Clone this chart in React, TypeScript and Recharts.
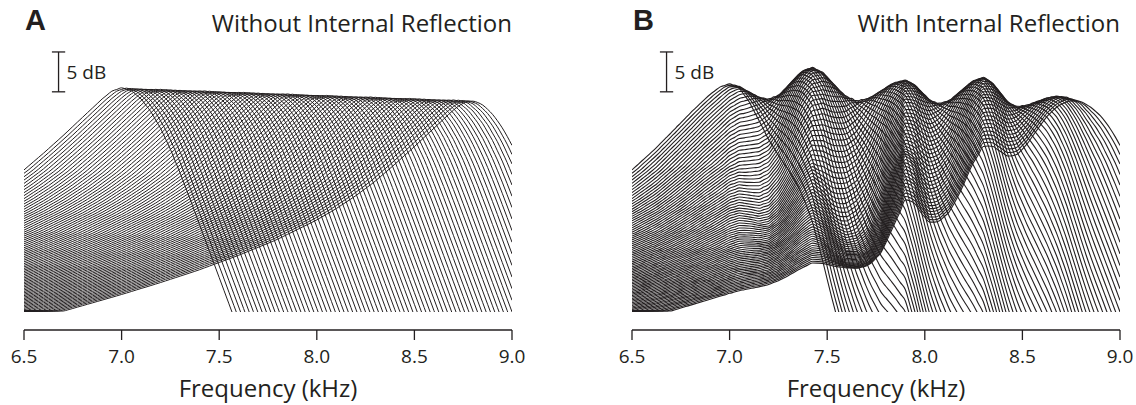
import React from 'react';
import { LineChart, Line, XAxis, YAxis, ReferenceLine } from 'recharts';

const INK = '#231f20';
const FONT = '"Open Sans", "Noto Sans", sans-serif';

const FREQ_TICKS = [6.5, 7.0, 7.5, 8.0, 8.5, 9.0];
const FREQ_MIN = 6.5;
const FREQ_MAX = 9.0;
const FREQ_STEP = 0.025;

// family of responses: peaks walk along the top ridge from 7.0 to 8.79 kHz
const CURVE_COUNT = 81;
const PEAK_KHZ = [7.0, 8.79];
const PEAK_DB = [28.0, 26.4];

// drop below the peak level vs distance from the peak (kHz)
const SHAPE_OFFSET_KHZ = [-2.4, -2.2, -2.0, -1.8, -1.6, -1.4, -1.2, -1.0, -0.8, -0.7, -0.6, -0.5, -0.4, -0.3, -0.2, -0.15, -0.1, -0.05, 0,
  0.05, 0.1, 0.15, 0.2, 0.25, 0.3, 0.35, 0.4, 0.45, 0.5, 0.55, 0.6, 0.7];
const SHAPE_DROP_DB = [28.6, 27.2, 25.8, 24.4, 22.9, 21.3, 19.5, 17.5, 15.1, 13.7, 12.1, 10.3, 8.2, 6.0, 3.7, 2.55, 1.4, 0.42, 0,
  0.35, 1.4, 3.0, 5.1, 7.7, 10.7, 13.9, 17.2, 20.5, 23.8, 27.1, 30.4, 37];

// panel B: internal reflection squeezes (+) or stretches (-) each curve's drop,
// and lifts the tops, at fixed frequencies
const REFLECT_KHZ = [6.5, 6.625, 6.75, 6.875, 7.0, 7.05, 7.1, 7.15, 7.2, 7.255, 7.31, 7.365, 7.42, 7.478, 7.535, 7.593,
  7.65, 7.713, 7.775, 7.838, 7.9, 7.943, 7.985, 8.028, 8.07, 8.128, 8.185, 8.243, 8.3, 8.343, 8.385, 8.428,
  8.47, 8.523, 8.575, 8.628, 8.68, 8.725, 8.77, 8.815, 8.86, 9.0];
const REFLECT_SQUEEZE = [0, 0.015, 0.05, 0.085, 0.1, 0.071, 0, -0.071, -0.1, -0.068, 0.01, 0.088, 0.12, -0.05, -0.25, -0.37,
  -0.4, -0.37, -0.2, 0.12, 0.38, 0.28, 0.08, -0.06, -0.09, -0.06, 0.06, 0.24, 0.36, 0.3, 0.19, 0.09,
  0.05, 0.079, 0.15, 0.221, 0.25, 0.213, 0.125, 0.037, 0, 0];
const REFLECT_LIFT_DB = [0, 0.073, 0.25, 0.427, 0.5, 0.251, -0.35, -0.951, -1.2, -0.585, 0.9, 2.385, 3.0, 2.414, 1.0, -0.414,
  -1.0, -0.59, 0.4, 1.39, 1.8, 1.39, 0.4, -0.59, -1.0, -0.487, 0.75, 1.987, 2.5, 1.987, 0.75, -0.487,
  -1.0, -0.78, -0.25, 0.28, 0.5, 0.383, 0.1, -0.183, -0.3, 0];

// how much of that each curve gets, by distance from its own peak
const SQUEEZE_WEIGHT_OFFSET = [-2.4, -1.6, -1.2, -0.9, -0.6, -0.3, 0, 0.2, 0.7];
const SQUEEZE_WEIGHT = [0, 0.05, 0.2, 0.55, 0.95, 1.0, 1.0, 0.35, 0.2];
const LIFT_WEIGHT_OFFSET = [-1.0, -0.5, -0.2, 0.2, 0.5, 1.0];
const LIFT_WEIGHT = [0.1, 0.3, 1.0, 1.0, 0.3, 0.1];

const SCALE_BAR = { khz: 6.677, low: 27.5, high: 32.5, cap: 0.034 };

const lookup = (xs: number[], ys: number[], x: number) => {
  if (x <= xs[0]) return ys[0];
  if (x >= xs[xs.length - 1]) return ys[ys.length - 1];
  let k = 1;
  while (xs[k] < x) k++;
  const t = (x - xs[k - 1]) / (xs[k] - xs[k - 1]);
  return ys[k - 1] + t * (ys[k] - ys[k - 1]);
};

const buildRows = (reflect: boolean) => {
  const rows: Record<string, number>[] = [];
  const n = Math.round((FREQ_MAX - FREQ_MIN) / FREQ_STEP);
  for (let s = 0; s <= n; s++) {
    const f = +(FREQ_MIN + s * FREQ_STEP).toFixed(3);
    const row: Record<string, number> = { f };
    for (let i = 0; i < CURVE_COUNT; i++) {
      const t = i / (CURVE_COUNT - 1);
      const peak = PEAK_KHZ[0] + t * (PEAK_KHZ[1] - PEAK_KHZ[0]);
      const level = PEAK_DB[0] + t * (PEAK_DB[1] - PEAK_DB[0]);
      const off = f - peak;
      let drop = lookup(SHAPE_OFFSET_KHZ, SHAPE_DROP_DB, off);
      let lift = 0;
      if (reflect) {
        drop *= 1 - lookup(REFLECT_KHZ, REFLECT_SQUEEZE, f) * lookup(SQUEEZE_WEIGHT_OFFSET, SQUEEZE_WEIGHT, off);
        lift = lookup(REFLECT_KHZ, REFLECT_LIFT_DB, f) * lookup(LIFT_WEIGHT_OFFSET, LIFT_WEIGHT, off);
      }
      let db = level - drop + lift;
      if (off < 0 && db < 0) db = 0;
      row['c' + i] = +db.toFixed(2);
    }
    rows.push(row);
  }
  return rows;
};

const ROWS_A = buildRows(false);
const ROWS_B = buildRows(true);
const CURVE_KEYS = Array.from({ length: CURVE_COUNT }, (_, i) => 'c' + i);

const FreqTick = (props: any) => {
  const { x, y, payload } = props;
  return (
    <text x={x} y={y + 39} textAnchor="middle" fill={INK} fontSize={19} fontFamily={FONT}>
      {payload.value.toFixed(1)}
    </text>
  );
};

interface PanelProps {
  rows: Record<string, number>[];
  left: number;
  width: number;
  rightMargin: number;
  letter: string;
  title: string;
  lineWidth: number;
}

const Panel = ({ rows, left, width, rightMargin, letter, title, lineWidth }: PanelProps) => {
  const axisEnd = left + width - rightMargin;
  return (
    <>
      <div style={{ position: 'absolute', left: left + 25, top: 6, fontFamily: '"Liberation Sans", Arial, sans-serif',
        fontWeight: 700, fontSize: 29, lineHeight: '29px', color: INK }}>{letter}</div>
      <div style={{ position: 'absolute', right: 1136 - axisEnd, top: 11, fontFamily: FONT, fontSize: 24,
        lineHeight: '24px', color: INK, whiteSpace: 'nowrap' }}>{title}</div>
      <div style={{ position: 'absolute', left, top: 0 }}>
        <LineChart width={width} height={405} data={rows} margin={{ top: 40, right: rightMargin, bottom: 8, left: 24 }}>
          <XAxis
            type="number"
            dataKey="f"
            domain={[FREQ_MIN, FREQ_MAX]}
            ticks={FREQ_TICKS}
            allowDataOverflow
            height={85}
            tickSize={10}
            axisLine={{ stroke: INK, strokeWidth: 1.3, transform: 'translate(0, 18)' } as any}
            tickLine={{ stroke: INK, strokeWidth: 1.3, transform: 'translate(0, 18)' } as any}
            tick={FreqTick}
            label={{ value: 'Frequency (kHz)', position: 'insideBottom', offset: 0, fill: INK, fontSize: 24, fontFamily: FONT }}
          />
          <YAxis hide type="number" domain={[-0.12, 34]} allowDataOverflow />
          {CURVE_KEYS.map((key) => (
            <Line
              key={key}
              dataKey={key}
              type="monotone"
              stroke={INK}
              strokeWidth={lineWidth}
              dot={false}
              activeDot={false}
              isAnimationActive={false}
            />
          ))}
          <ReferenceLine
            segment={[{ x: SCALE_BAR.khz, y: SCALE_BAR.low }, { x: SCALE_BAR.khz, y: SCALE_BAR.high }]}
            stroke={INK}
            strokeWidth={1.3}
            label={{ value: '5 dB', position: 'right', offset: 8, fill: INK, fontSize: 19, fontFamily: FONT }}
          />
          <ReferenceLine
            segment={[{ x: SCALE_BAR.khz - SCALE_BAR.cap, y: SCALE_BAR.low }, { x: SCALE_BAR.khz + SCALE_BAR.cap, y: SCALE_BAR.low }]}
            stroke={INK}
            strokeWidth={1.3}
          />
          <ReferenceLine
            segment={[{ x: SCALE_BAR.khz - SCALE_BAR.cap, y: SCALE_BAR.high }, { x: SCALE_BAR.khz + SCALE_BAR.cap, y: SCALE_BAR.high }]}
            stroke={INK}
            strokeWidth={1.3}
          />
        </LineChart>
      </div>
    </>
  );
};

export default function App() {
  return (
    <div style={{ position: 'absolute', left: 0, top: 0, width: 1136, height: 405, background: '#fff', overflow: 'hidden' }}>
      <Panel rows={ROWS_A} left={0} width={560} rightMargin={48} letter="A" title="Without Internal Reflection" lineWidth={1.0} />
      <Panel rows={ROWS_B} left={608} width={528} rightMargin={16} letter="B" title="With Internal Reflection" lineWidth={1.1} />
    </div>
  );
}
